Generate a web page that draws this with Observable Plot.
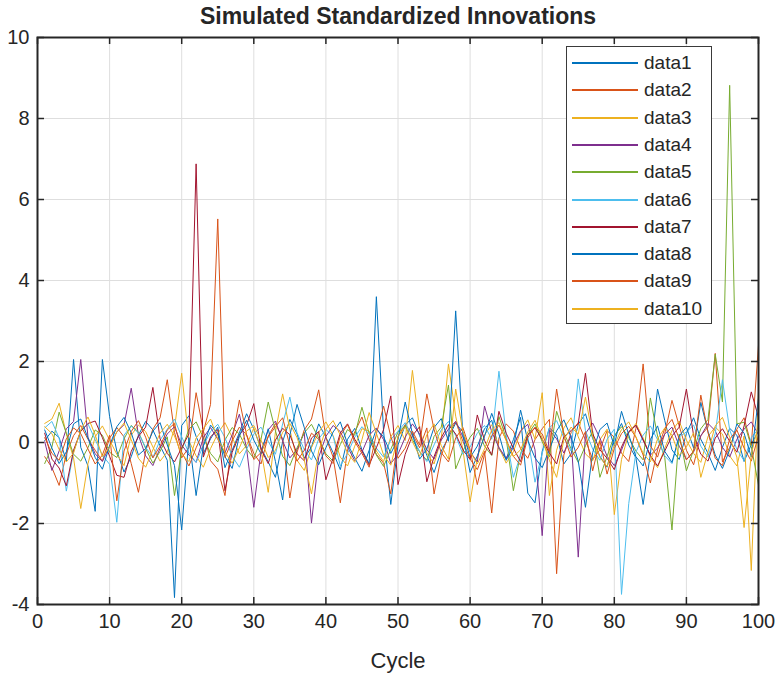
<!DOCTYPE html>
<html>
<head>
<meta charset="utf-8">
<script src="https://cdn.jsdelivr.net/npm/d3@7"></script>
<script src="https://cdn.jsdelivr.net/npm/@observablehq/plot@0.6"></script>
<style>
  html, body { margin: 0; padding: 0; background: #ffffff; }
  #wrap { position: relative; width: 778px; height: 675px; font-family: "Liberation Sans", Arial, sans-serif; }
  #legend { position: absolute; left: 566px; top: 46px; width: 146px; height: 278px; border: 1px solid #3a3a3a; background: #fff; box-sizing: border-box; }
  .entry { position: absolute; left: 0; height: 20px; display: flex; align-items: center; }
  .entry svg { margin-left: 5px; }
  .entry span { margin-left: 6px; font-size: 19px; color: #262626; }
</style>
</head>
<body>
<div id="wrap"></div>
<script>
const title = "Simulated Standardized Innovations";
const xLabel = "Cycle";
const names = ["data1","data2","data3","data4","data5","data6","data7","data8","data9","data10"];
const colors = ["#0072BD","#D95319","#EDB120","#7E2F8E","#77AC30","#4DBEEE","#A2142F","#0072BD","#D95319","#EDB120"];
const xTicks = [0,10,20,30,40,50,60,70,80,90,100];
const yTicks = [-4,-2,0,2,4,6,8,10];

const data1 = [0.05,0.28,0.12,-0.46,2.05,-0.12,-0.58,-1.70,2.05,0.64,
  -0.21,-0.73,-0.35,0.18,0.52,0.31,-0.08,-0.44,-3.83,0.42,
  0.66,0.15,-0.27,0.09,0.38,-0.62,-0.19,0.24,0.71,0.33,
  -0.14,-0.48,-0.86,0.02,0.57,0.21,-0.39,-0.11,0.46,0.13,
  -0.25,-0.67,0.08,0.35,-0.18,-0.52,3.60,0.27,-1.53,-0.06,
  0.43,0.61,0.17,-0.32,-0.74,-0.21,0.12,0.48,0.26,-0.37,
  -0.09,0.34,0.55,-0.16,-0.41,0.07,0.62,-1.25,-1.49,-0.22,
  0.36,0.19,-0.53,-0.28,0.45,0.71,0.10,-0.34,-0.61,0.13,
  0.47,-0.06,-0.38,-1.53,-0.29,1.32,0.54,-0.18,-0.42,0.22,
  0.61,0.08,-0.27,-0.69,-0.12,0.35,0.18,-0.47,-0.05,0.29];
const data2 = [-0.35,-0.62,-1.06,-0.28,0.17,0.42,0.08,-0.19,-0.46,0.11,
  0.37,0.14,-0.52,-1.23,-0.21,0.33,0.61,1.55,0.25,-0.38,
  -0.12,1.23,0.29,-0.45,-0.66,-1.31,0.04,0.38,0.19,-0.27,
  -0.53,0.16,0.47,0.09,-1.37,-0.24,0.31,0.58,1.30,0.12,
  -0.36,-1.49,-0.18,0.26,0.63,0.07,-0.29,-0.51,-1.27,0.15,
  0.44,0.21,-0.13,0.36,-1.27,-0.33,0.18,0.52,0.03,-0.41,
  -0.67,-0.22,-1.74,0.11,0.46,0.28,-0.15,-0.39,0.07,0.34,
  0.57,-3.24,-0.31,0.24,0.49,0.06,-0.42,-0.18,0.29,0.13,
  -0.26,-0.47,0.35,1.94,-0.08,-0.36,0.22,1.04,0.41,-0.19,
  -0.55,0.17,0.38,2.20,-0.48,-0.12,0.33,0.61,-0.07,2.40];
const data3 = [0.47,0.58,0.97,0.21,-0.38,-1.63,-0.52,0.14,0.41,0.06,
  -0.29,-0.57,0.18,0.43,0.27,-0.11,-0.46,-0.23,0.35,1.71,
  0.04,-0.33,-0.61,-0.15,0.22,0.49,0.13,-0.28,-0.07,0.36,
  -0.18,-1.23,0.26,1.20,0.32,-0.44,-0.69,-0.12,0.25,0.51,
  0.17,-0.36,-0.58,-0.09,0.34,0.28,-0.21,-0.47,0.14,0.42,
  0.05,1.78,0.31,-0.26,-0.53,0.09,1.94,0.65,-0.17,-1.47,
  -0.38,0.19,0.44,-0.12,-0.51,-0.23,0.27,0.56,0.08,1.23,
  -1.31,-0.19,0.36,0.61,0.14,-0.28,-0.45,0.07,0.33,-1.78,
  -0.42,0.23,0.47,0.11,-0.36,-0.62,-0.14,0.29,0.53,0.06,
  -0.27,-0.49,0.15,0.38,0.21,-0.33,-0.58,0.16,-3.16,1.25];
const data4 = [0.02,-0.69,-0.21,0.34,0.52,2.05,0.13,-0.28,-0.47,-0.09,
  0.26,0.44,1.34,0.18,-0.33,-0.57,-0.14,0.21,0.39,-0.06,
  -0.31,-0.49,0.12,0.37,0.08,-0.26,0.19,0.70,-0.15,-1.60,
  -0.22,0.31,0.53,0.04,-0.38,-0.17,0.24,-1.99,-0.36,0.15,
  0.42,0.27,-0.11,-0.45,-0.24,0.18,0.36,0.07,-0.52,-0.29,
  0.13,0.46,0.21,-0.17,-0.41,0.06,0.33,0.52,0.14,-0.23,
  -0.48,0.90,0.26,-0.12,-0.39,-0.07,0.29,0.45,-0.18,-2.30,
  0.31,0.09,-0.26,0.17,-2.83,0.22,0.48,0.11,-0.34,-0.57,
  -0.19,0.27,0.43,0.05,-0.31,-0.14,0.21,0.38,-0.09,-0.42,
  -0.23,0.16,0.47,0.29,-0.12,-0.36,0.08,0.33,0.51,0.19];
const data5 = [-0.52,-0.11,0.75,0.23,-0.29,-0.46,-0.13,0.31,0.18,-0.24,
  -0.37,0.09,0.42,0.26,-0.15,-0.51,-0.22,0.14,-1.31,-0.18,
  0.33,0.51,0.12,-0.27,-0.48,0.06,0.37,0.21,-0.16,-0.39,
  0.08,1.00,0.29,-0.34,-0.57,-0.13,0.24,0.45,0.11,-0.28,
  -0.46,-0.05,0.32,0.18,0.87,0.22,-0.31,-0.59,-0.17,0.26,
  0.41,0.07,-0.23,-0.44,0.15,0.38,1.42,-0.65,-0.21,0.13,
  0.35,-0.09,-0.32,0.64,0.11,-1.19,-0.27,0.19,0.46,0.02,
  -0.36,0.77,0.24,-0.15,-0.49,-0.08,0.28,-0.86,-0.34,0.17,
  0.39,0.12,-0.21,-0.43,1.10,0.16,-0.37,-2.16,0.21,-0.70,
  -0.18,0.34,0.57,2.18,1.00,8.82,0.46,0.50,-0.10,-1.05];
const data6 = [0.36,0.52,0.11,-1.20,-0.23,0.29,0.46,0.07,-0.31,-0.54,
  -1.97,0.18,0.41,0.23,-0.12,-0.37,0.06,0.33,0.58,0.14,
  -0.26,-0.49,-0.08,0.27,0.45,0.12,-0.34,-0.61,-0.17,0.21,
  0.38,0.03,-0.29,0.46,1.12,0.24,-0.18,-0.43,0.09,0.32,
  0.16,-0.58,-0.27,0.13,0.39,0.21,-0.14,-0.36,0.07,0.28,
  0.49,0.15,-0.22,-0.47,-0.06,0.31,0.52,0.17,-0.29,-0.11,
  0.23,0.42,0.08,1.76,0.19,-0.86,-0.31,0.14,-0.98,-0.27,
  0.36,0.54,0.12,-0.21,1.57,0.29,-0.16,-0.44,0.08,0.33,
  -3.75,-1.51,-0.24,0.18,0.41,0.07,-0.33,-0.52,0.14,0.26,
  0.43,-0.09,-0.36,0.22,1.55,0.31,-0.17,-0.45,0.12,0.34];
const data7 = [0.23,-0.41,-0.63,-1.07,-0.19,0.28,0.47,0.53,0.12,-0.34,
  -0.81,-0.86,-0.22,0.15,0.38,1.36,0.09,-0.27,-0.48,-0.13,
  0.21,6.88,-0.36,0.14,0.32,-1.19,-0.24,0.18,0.43,0.96,
  -0.17,-0.52,0.06,0.35,0.19,-0.28,-0.45,0.11,0.27,-0.92,
  -0.38,0.24,0.46,0.08,-0.21,-0.56,-0.13,0.32,1.15,-1.04,
  -0.29,0.17,0.39,-0.97,-0.35,0.12,0.44,0.21,-0.18,-0.42,
  0.68,0.05,-0.31,0.77,0.23,-0.14,-0.47,0.19,0.36,0.08,
  -0.26,-0.53,0.14,0.29,0.47,1.71,0.22,-0.18,-0.39,-0.67,
  -0.11,0.26,0.42,0.07,-0.32,-0.58,-0.21,0.16,0.38,1.32,
  0.17,-0.29,-0.46,0.11,0.34,0.03,-0.24,0.41,1.25,0.62];
const data8 = [0.31,-0.14,-0.52,-0.23,0.46,0.58,0.11,-0.37,-0.66,-0.08,
  0.39,0.62,0.24,-0.31,-0.15,0.28,0.49,-0.06,-0.57,-2.16,
  0.12,-1.31,-0.09,0.43,0.21,-0.35,-0.64,0.17,0.55,0.06,
  -0.28,0.34,-0.47,-1.42,0.18,0.94,0.37,-0.21,-0.55,-0.13,
  0.26,0.51,-0.04,-0.38,-0.71,-0.19,0.33,0.14,-0.27,0.08,
  1.00,0.22,-0.41,-0.16,0.37,0.59,0.03,3.25,0.18,-0.74,
  -0.33,0.15,0.72,0.21,-0.44,-0.12,0.80,0.05,-0.38,-0.62,
  -0.17,0.29,0.56,0.13,-0.46,-1.60,-0.25,0.32,0.48,-0.09,
  0.77,0.19,-0.35,-0.58,0.07,0.41,-0.22,-0.49,0.16,0.38,
  -0.14,0.99,0.27,-0.31,-0.64,-0.18,0.46,0.23,-0.36,1.10];
const data9 = [0.12,-0.27,-0.44,0.09,0.36,0.22,-0.16,-0.53,-0.31,0.18,
  -1.44,-0.21,0.27,0.54,0.13,-0.38,-0.09,0.31,0.47,-0.24,
  -0.58,-0.13,0.26,0.94,5.52,-0.37,0.05,1.05,0.19,-0.42,
  -0.25,0.14,0.39,0.61,-0.08,-0.46,-0.19,0.23,0.08,-0.33,
  -0.52,0.17,0.44,0.02,-0.27,-0.61,0.21,0.90,0.15,-0.39,
  -0.14,0.28,-0.06,1.20,0.32,-0.25,-0.48,0.11,0.37,-0.18,
  -1.04,-0.29,0.16,0.43,0.07,-0.34,-0.56,0.12,0.38,0.21,
  -0.23,1.32,0.18,-0.36,-0.12,0.27,-0.70,0.04,-0.78,-0.15,
  0.22,0.40,0.13,-0.31,-1.00,-0.18,0.35,0.57,0.09,-0.43,
  -0.21,1.17,0.24,-0.39,-0.57,0.08,0.31,-0.14,-0.46,0.17];
const data10 = [0.39,0.22,-0.17,-0.48,-0.26,0.31,0.63,0.19,-0.35,-0.12,
  0.26,0.48,0.07,-0.39,-0.61,-0.18,0.23,0.45,0.16,-0.29,
  -0.47,0.11,0.34,0.58,0.09,-0.24,-0.51,-0.13,0.28,0.42,
  0.06,-0.37,-0.19,0.25,0.47,0.12,-0.43,-1.27,-0.21,0.33,
  0.54,0.18,-0.26,-0.49,0.07,0.74,0.23,-0.31,-0.56,0.14,
  0.38,0.02,-0.34,0.19,0.46,-0.08,-0.41,1.32,0.27,-0.22,
  -0.53,-0.16,0.31,0.49,0.04,-0.35,-0.18,0.26,0.55,0.11,
  -0.44,-0.86,0.07,0.38,0.21,1.12,0.15,-0.37,-0.59,-0.06,
  0.32,0.51,0.14,-0.27,-0.48,0.09,0.36,0.18,-0.32,-0.11,
  0.24,-0.86,-0.23,0.41,0.62,0.13,-0.36,-2.10,-0.29,0.44];

const series = [data1,data2,data3,data4,data5,data6,data7,data8,data9,data10];
const rows = series.flatMap((s, i) => s.map((v, j) => ({cycle: j + 1, value: v, name: names[i]})));

const W = 778, H = 675, mT = 37, mL = 37, mR = 20, mB = 71;
const plotW = W - mL - mR, plotH = H - mT - mB;
const tickLen = 7;
const font = "'Liberation Sans', Arial, Helvetica, sans-serif";
const ink = "#262626";

const chart = Plot.plot({
  width: W, height: H,
  marginTop: mT, marginLeft: mL, marginRight: mR, marginBottom: mB,
  style: {fontFamily: font, background: "#ffffff", color: ink},
  x: {domain: [0, 100]},
  y: {domain: [-4, 10]},
  color: {domain: names, range: colors},
  marks: [
    Plot.gridX(xTicks, {stroke: "#dedede", strokeOpacity: 1, strokeWidth: 1}),
    Plot.gridY(yTicks, {stroke: "#dedede", strokeOpacity: 1, strokeWidth: 1}),
    Plot.line(rows, {x: "cycle", y: "value", z: "name", stroke: "name", strokeWidth: 1}),
    Plot.ruleX(xTicks, {stroke: ink, strokeWidth: 1.5, insetTop: plotH - tickLen}),
    Plot.ruleX(xTicks, {stroke: ink, strokeWidth: 1.5, insetBottom: plotH - tickLen}),
    Plot.ruleY(yTicks, {stroke: ink, strokeWidth: 1.5, insetRight: plotW - tickLen}),
    Plot.ruleY(yTicks, {stroke: ink, strokeWidth: 1.5, insetLeft: plotW - tickLen}),
    Plot.frame({stroke: ink, strokeWidth: 2}),
    Plot.axisX({ticks: xTicks, tickSize: 0, tickPadding: 9, fontSize: 20, fill: ink, label: null, tickFormat: d => String(d)}),
    Plot.axisY({ticks: yTicks, tickSize: 0, tickPadding: 8, fontSize: 20, fill: ink, label: null, tickFormat: d => String(d)}),
    Plot.text([xLabel], {frameAnchor: "bottom", lineAnchor: "middle", dy: 56, fontSize: 22, fill: ink, text: d => d}),
    Plot.text([title], {frameAnchor: "top", lineAnchor: "middle", dy: -21, fontSize: 23, fontWeight: "bold", fill: ink, text: d => d})
  ]
});

const wrap = document.getElementById("wrap");
wrap.appendChild(chart);

const legend = document.createElement("div");
legend.id = "legend";
names.forEach((n, i) => {
  const e = document.createElement("div");
  e.className = "entry";
  e.style.top = (6 + i * 27.3) + "px";
  e.innerHTML = `<svg width="66" height="4"><line x1="0" x2="66" y1="2" y2="2" stroke="${colors[i]}" stroke-width="2"/></svg><span>${n}</span>`;
  legend.appendChild(e);
});
wrap.appendChild(legend);
</script>
</body>
</html>
